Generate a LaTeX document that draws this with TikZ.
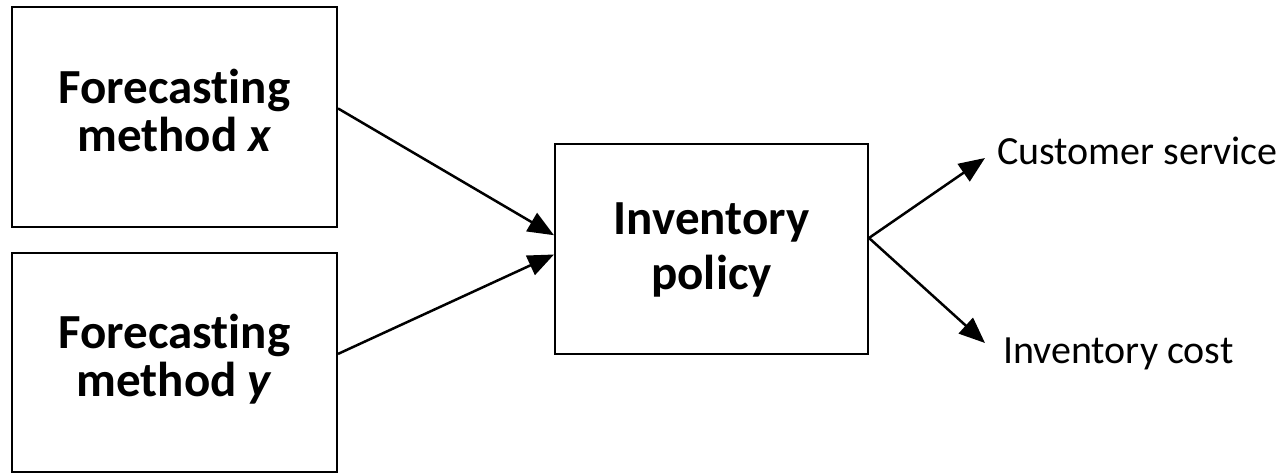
\documentclass[tikz,border=0pt]{standalone}
\usepackage{fontspec}
\setmainfont{Carlito}[Ligatures=NoCommon]
\usetikzlibrary{arrows.meta}

\begin{document}
\begin{tikzpicture}[
		x=1pt, y=-1pt,
		block/.style={draw,line width=2pt,inner sep=0pt,align=center,text depth=14pt,
			font=\fontsize{49}{48}\selectfont\bfseries},
		outcome/.style={inner sep=0pt,anchor=base west,
			font=\fontsize{40}{48}\selectfont},
		flow/.style={line width=2.5pt,-{Triangle[length=26pt,width=21pt]}}
		]
		\useasboundingbox (0,0) rectangle (1286,473);
		\node[block,minimum width=325pt,minimum height=220pt] (fcx) at (174.5,117) {Forecasting\\method \textit{x}};
		\node[block,minimum width=325pt,minimum height=219pt] (fcy) at (174.5,362.5) {Forecasting\\method \textit{y}};
		\node[block,text depth=6pt,minimum width=313pt,minimum height=210pt] (policy) at (711.5,249) {Inventory\\[7pt]policy};
		\node[outcome] (service) at (997,165) {Customer service};
		\node[outcome] (cost) at (1003,363) {Inventory cost};
		\coordinate (svcend) at (985,158);
		\coordinate (costend) at (985,343);
		\draw[flow] (fcx.3) -- (policy.175);
		\draw[flow] (fcy.3) -- (policy.182);
		\draw[flow] (policy.4) -- (svcend);
		\draw[flow] (policy.4) -- (costend);
	\end{tikzpicture}
\end{document}
